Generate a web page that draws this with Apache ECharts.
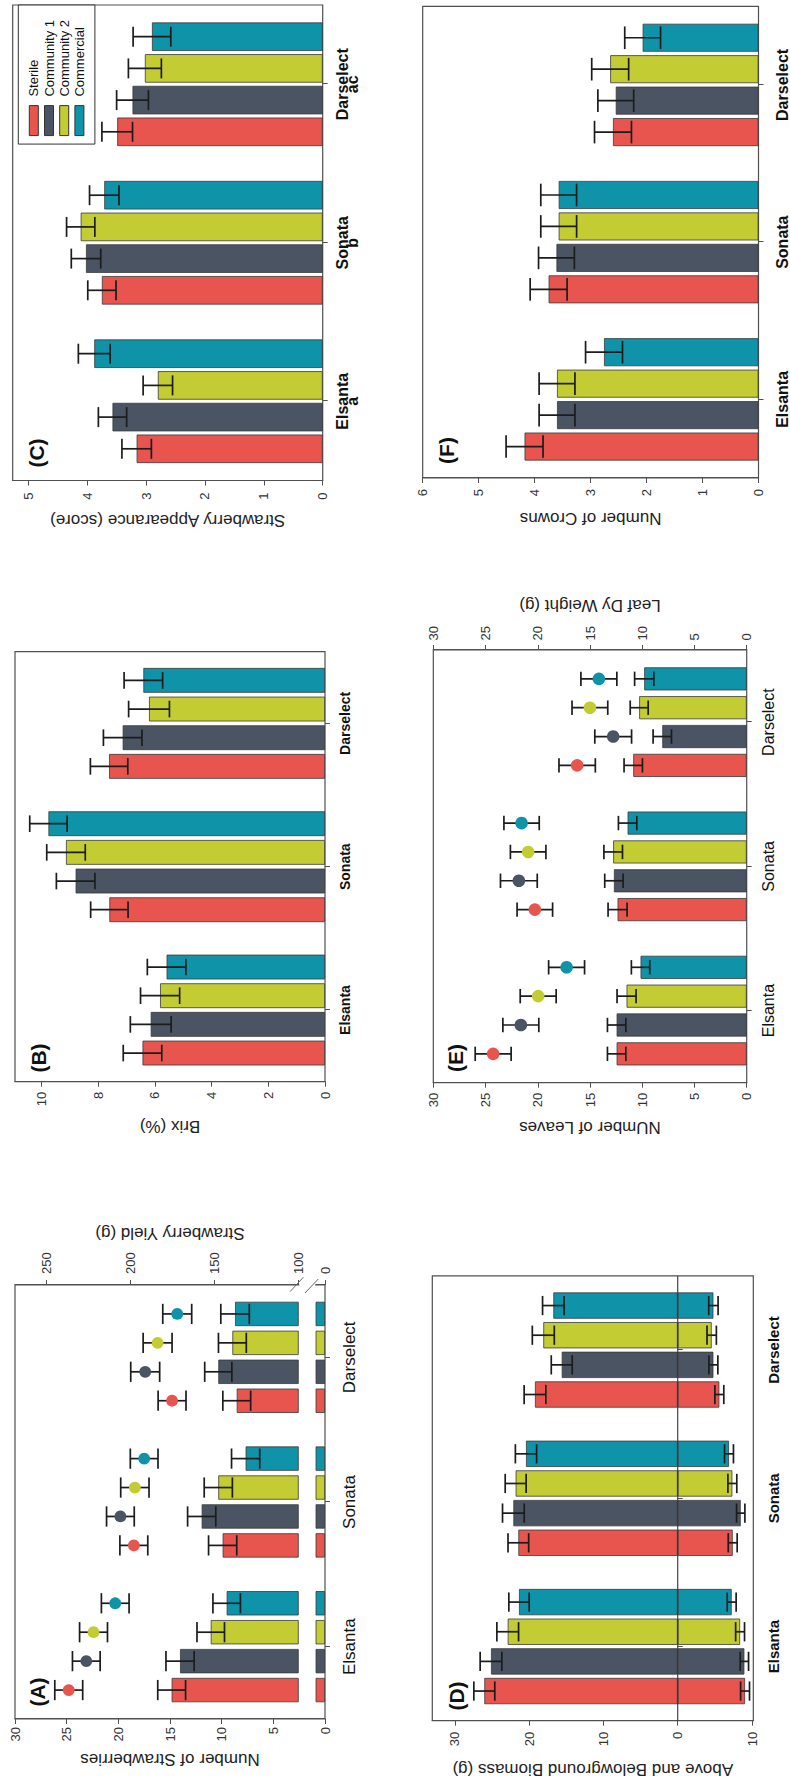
<!DOCTYPE html>
<html>
<head>
<meta charset="utf-8">
<script src="https://cdn.jsdelivr.net/npm/echarts@6/dist/echarts.min.js"></script>
<style>
  html, body { margin: 0; padding: 0; background: #fff; width: 790px; height: 1787px; overflow: hidden; }
  /* the six-panel figure is laid out landscape and turned a quarter turn to stand on the page */
  #fig { position: absolute; left: 0; top: 0; width: 1787px; height: 790px;
         transform-origin: 0 0; transform: translate(0px, 1787px) rotate(-90deg); }
</style>
</head>
<body>
<div id="fig"></div>
<script>
// ---- categories -----------------------------------------------------------
const cultivars = ['Elsanta', 'Sonata', 'Darselect'];
const treatments = ['Sterile', 'Community 1', 'Community 2', 'Commercial'];
const palette = ['#E8544E', '#4A5463', '#C3CC32', '#0F93A9'];

// ---- (A) strawberry yield (g, bars) and number of strawberries (points) ---
// rows follow `treatments`, columns follow `cultivars`
const yieldMean = [[175.5, 145.1, 136.7], [170.5, 157.6, 147.7], [152.2, 147.7, 139.3], [142.7, 131.4, 137.7]];
const yieldErr = [[8.3, 8.4, 8.3], [8.4, 8.4, 8.1], [8.2, 8.4, 8.3], [8.2, 8.4, 8.5]];
const berryCount = [[24.8, 18.5, 14.8], [23.1, 19.8, 17.4], [22.4, 18.4, 16.2], [20.3, 17.5, 14.3]];
const berryCountErr = [[1.35, 1.35, 1.35], [1.34, 1.34, 1.4], [1.35, 1.37, 1.4], [1.34, 1.34, 1.4]];
const berryCountTicks = [0, 5, 10, 15, 20, 25, 30];
const yieldTicks = [100, 150, 200, 250];
const yieldStubTicks = [0];

// ---- (B) Brix --------------------------------------------------------------
const brixMean = [[6.44, 7.61, 7.62], [6.15, 8.80, 7.14], [5.82, 9.14, 6.21], [5.59, 9.76, 6.41]];
const brixErr = [[0.68, 0.66, 0.66], [0.72, 0.68, 0.68], [0.69, 0.68, 0.72], [0.68, 0.66, 0.68]];
const brixTicks = [0, 2, 4, 6, 8, 10];

// ---- (C) appearance score --------------------------------------------------
const appearMean = [[3.16, 3.75, 3.49], [3.57, 4.02, 3.23], [2.80, 4.11, 3.02], [3.88, 3.71, 2.90]];
const appearErr = [[0.25, 0.24, 0.26], [0.24, 0.25, 0.27], [0.25, 0.24, 0.28], [0.27, 0.25, 0.32]];
const appearLetters = ['a', 'b', 'ac'];
const appearTicks = [0, 1, 2, 3, 4, 5];

// ---- (D) above (+) and belowground (-) biomass ------------------------------
const aboveMean = [[26.03, 21.45, 19.21], [25.13, 22.12, 15.61], [22.88, 21.81, 18.09], [21.36, 20.42, 16.74]];
const aboveErr = [[1.41, 1.39, 1.46], [1.46, 1.46, 1.41], [1.46, 1.41, 1.48], [1.37, 1.43, 1.45]];
const belowMean = [[-9.06, -7.40, -5.60], [-8.97, -8.48, -4.80], [-8.39, -7.35, -4.57], [-7.26, -6.90, -4.80]];
const belowErr = [[0.60, 0.60, 0.60], [0.56, 0.56, 0.60], [0.60, 0.60, 0.63], [0.60, 0.60, 0.63]];
const biomassTicks = [-10, 0, 10, 20, 30];

// ---- (E) number of leaves (points) and leaf dry weight (bars) ---------------
const leafCount = [[24.27, 20.28, 16.23], [21.62, 21.81, 12.78], [19.96, 20.92, 15.01], [17.24, 21.55, 14.15]];
const leafCountErr = [[1.72, 1.70, 1.74], [1.72, 1.76, 1.76], [1.72, 1.70, 1.71], [1.72, 1.69, 1.72]];
const leafDryWeight = [[12.45, 12.36, 10.86], [12.45, 12.71, 8.08], [11.50, 12.78, 10.29], [10.16, 11.40, 9.81]];
const leafDryWeightErr = [[0.88, 0.91, 0.88], [0.88, 0.88, 0.88], [0.91, 0.89, 0.86], [0.88, 0.88, 0.92]];
const leafTicks = [0, 5, 10, 15, 20, 25, 30];

// ---- (F) number of crowns ----------------------------------------------------
const crownMean = [[4.18, 3.75, 2.60], [3.60, 3.61, 2.55], [3.60, 3.57, 2.65], [2.76, 3.57, 2.07]];
const crownErr = [[0.33, 0.33, 0.33], [0.32, 0.32, 0.32], [0.32, 0.32, 0.33], [0.33, 0.32, 0.32]];
const crownTicks = [0, 1, 2, 3, 4, 5, 6];

// ---- option builders -------------------------------------------------------
const FONT = '"Liberation Sans", Arial, Helvetica, sans-serif';
const INK = '#505050';
const grid = [], xAxis = [], yAxis = [], series = [], graphic = [];

function addGrid(r, border) {
  grid.push({ left: r[0], top: r[1], width: r[2], height: r[3], show: border,
              borderColor: INK, borderWidth: 1.2, backgroundColor: 'transparent' });
  return grid.length - 1;
}

function addCatAxis(gi, lab) {
  if (!lab) {
    xAxis.push({ type: 'category', gridIndex: gi, data: cultivars, boundaryGap: true, show: false });
  } else {
    xAxis.push({
      type: 'category', gridIndex: gi, data: cultivars, boundaryGap: true,
      axisLine: { show: false },
      axisTick: { show: true, alignWithLabel: true, length: 5, lineStyle: { color: INK, width: 1 } },
      axisLabel: { show: true, interval: 0, margin: lab.margin, fontFamily: FONT, fontSize: lab.size,
                   fontWeight: lab.bold ? 'bold' : 'normal', color: '#111',
                   formatter: lab.formatter, rich: lab.rich }
    });
  }
  return xAxis.length - 1;
}

function addValAxis(gi, o) {
  yAxis.push({
    type: 'value', gridIndex: gi, position: o.pos || 'left', min: o.min, max: o.max,
    name: o.name || '', nameLocation: 'middle', nameGap: o.nameGap || 0,
    nameTextStyle: { fontFamily: FONT, fontSize: 17, color: '#222' },
    axisLine: { show: !!o.ticks, lineStyle: { color: INK, width: 1.2 } },
    axisTick: { show: !!o.ticks, length: 5, lineStyle: { color: INK, width: 1 },
                customValues: o.ticks || [] },
    axisLabel: { show: !!o.ticks, margin: o.margin || 8, fontFamily: FONT, fontSize: 13, color: '#333',
                 customValues: o.ticks || [], formatter: o.fmt },
    splitLine: { show: false }
  });
  return yAxis.length - 1;
}

function addBars(xi, yi, means, widthFrac, stackKey) {
  const pct = 20 * widthFrac;
  const gap = (1 - widthFrac) / widthFrac * 100;
  means.forEach((row, t) => series.push({
    type: 'bar', name: treatments[t], xAxisIndex: xi, yAxisIndex: yi, data: row,
    barWidth: pct + '%', barGap: gap + '%', stack: stackKey ? stackKey + t : null,
    itemStyle: { color: palette[t], borderColor: '#3a3a3a', borderWidth: 0.8 },
    silent: true, clip: true, z: 2
  }));
}

// error bars (and optional dots) placed on the same slot as the bar of each treatment
function addErrors(xi, yi, means, errs, capFrac, dot) {
  means.forEach((row, t) => series.push({
    type: 'custom', xAxisIndex: xi, yAxisIndex: yi, silent: true, z: 6,
    data: row.map((m, k) => [k, m, errs[t][k]]),
    encode: { x: 0, y: 1 },
    renderItem(params, api) {
      const k = api.value(0), m = api.value(1), e = api.value(2);
      const pitch = api.size([1, 0])[0] / 5;
      const mid = api.coord([k, m]);
      const lo = api.coord([k, m - e]), hi = api.coord([k, m + e]);
      const x = mid[0] + (t - 1.5) * pitch, c = pitch * capFrac / 2;
      const ls = { stroke: '#1c1c1c', lineWidth: 1.7 };
      const children = [
        { type: 'line', shape: { x1: x, y1: lo[1], x2: x, y2: hi[1] }, style: ls },
        { type: 'line', shape: { x1: x - c, y1: lo[1], x2: x + c, y2: lo[1] }, style: ls },
        { type: 'line', shape: { x1: x - c, y1: hi[1], x2: x + c, y2: hi[1] }, style: ls }
      ];
      if (dot) children.push({ type: 'circle', shape: { cx: x, cy: mid[1], r: dot }, style: { fill: palette[t] } });
      return { type: 'group', children };
    }
  }));
}

function panelTag(text, x, y) {
  graphic.push({ type: 'text', x, y, z: 50,
    style: { text, fontFamily: FONT, fontSize: 21, fontWeight: 'bold', fill: '#111',
             align: 'center', verticalAlign: 'middle', textAlign: 'center', textVerticalAlign: 'middle' } });
}

// ---- (A) -----------------------------------------------------------------
{
  const gFull = addGrid([68, 15, 434, 310], true);
  const gMain = addGrid([68, 15, 434, 283.3], false);
  const gStub = addGrid([68, 316, 434, 9], false);
  const xFull = addCatAxis(gFull, { margin: 15.5, size: 17, bold: false });
  const xMain = addCatAxis(gMain, null);
  const xStub = addCatAxis(gStub, null);
  const yCount = addValAxis(gFull, { min: 0, max: 30, ticks: berryCountTicks, margin: 8,
                                     name: 'Number of Strawberries', nameGap: 31.5 });
  addValAxis(gFull, { pos: 'right', min: 0, max: 30, name: 'Strawberry Yield (g)', nameGap: 43.5 });
  const yMain = addValAxis(gMain, { pos: 'right', min: 100, max: 268.9, ticks: yieldTicks, margin: 11 });
  const yStub = addValAxis(gStub, { pos: 'right', min: 0, max: 5.4, ticks: yieldStubTicks, margin: 11 });
  addBars(xMain, yMain, yieldMean, 0.84);
  addBars(xStub, yStub, yieldMean, 0.84);
  addErrors(xMain, yMain, yieldMean, yieldErr, 0.7);
  addErrors(xFull, yCount, berryCount, berryCountErr, 0.7, 5.9);
  panelTag('(A)', 95, 37);
  // broken yield axis: gap in the frame plus the two slash marks
  graphic.push({ type: 'rect', z: 40, shape: { x: 499, y: 299.3, width: 6, height: 15.7 }, style: { fill: '#fff' } });
  graphic.push({ type: 'line', z: 41, shape: { x1: 495.3, y1: 290, x2: 509.7, y2: 303.3 }, style: { stroke: '#666', lineWidth: 1 } });
  graphic.push({ type: 'line', z: 41, shape: { x1: 494, y1: 305, x2: 508, y2: 318.3 }, style: { stroke: '#666', lineWidth: 1 } });
}

// ---- (B) -----------------------------------------------------------------
{
  const g = addGrid([705.3, 15, 430, 310], true);
  const x = addCatAxis(g, { margin: 13, size: 14, bold: true });
  const y = addValAxis(g, { min: 0, max: 10.94, ticks: brixTicks, margin: 10, name: 'Brix (%)', nameGap: 36 });
  addBars(x, y, brixMean, 0.865);
  addErrors(x, y, brixMean, brixErr, 0.58);
  panelTag('(B)', 729, 38.3);
}

// ---- (C) -----------------------------------------------------------------
{
  const g = addGrid([1306.5, 12.7, 475.5, 310], true);
  const x = addCatAxis(g, { margin: 14, size: 16, bold: true,
    formatter: (v, i) => '{n|' + v + '}\n{s|' + appearLetters[i] + '}',
    rich: { n: { fontFamily: FONT, fontSize: 16, fontWeight: 'bold', color: '#111', lineHeight: 11 },
            s: { fontFamily: FONT, fontSize: 16, fontWeight: 'bold', color: '#111', lineHeight: 9 } } });
  const y = addValAxis(g, { min: 0, max: 5.265, ticks: appearTicks, margin: 12,
                            name: 'Strawberry Appearance (score)', nameGap: 31 });
  addBars(x, y, appearMean, 0.9);
  addErrors(x, y, appearMean, appearErr, 0.63);
  panelTag('(C)', 1334, 36.7);
}

// ---- (D) -----------------------------------------------------------------
{
  const g = addGrid([66.3, 432.3, 444.8, 321], true);
  const x = addCatAxis(g, { margin: 12.5, size: 15, bold: true });
  const y = addValAxis(g, { min: -10.17, max: 33.03, ticks: biomassTicks, margin: 11,
                            name: 'Above and Belowground Biomass (g)', nameGap: 40,
                            fmt: v => String(Math.abs(v)) });
  addBars(x, y, aboveMean, 0.886, 'D');
  addBars(x, y, belowMean, 0.886, 'D');
  addErrors(x, y, aboveMean, aboveErr, 0.65);
  addErrors(x, y, belowMean, belowErr, 0.65);
  // zero reference line across the panel
  series.push({ type: 'custom', xAxisIndex: x, yAxisIndex: y, silent: true, z: 7,
    data: [[0, 0]], encode: { x: 0, y: 1 },
    renderItem(params, api) {
      const cs = params.coordSys, yy = api.coord([0, 0])[1];
      return { type: 'line', shape: { x1: cs.x, y1: yy, x2: cs.x + cs.width, y2: yy },
               style: { stroke: '#333', lineWidth: 1.1 } };
    } });
  panelTag('(D)', 91, 456.7);
}

// ---- (E) -----------------------------------------------------------------
{
  const g = addGrid([704.3, 433.3, 432.7, 313.4], true);
  const x = addCatAxis(g, { margin: 14, size: 16, bold: false });
  const yLeft = addValAxis(g, { min: 0, max: 30, ticks: leafTicks, margin: 10,
                                name: 'NUmber of Leaves', nameGap: 36 });
  const yRight = addValAxis(g, { pos: 'right', min: 0, max: 30, ticks: leafTicks, margin: 9.5,
                                 name: 'Leaf Dy Weight (g)', nameGap: 36.5 });
  addBars(x, yRight, leafDryWeight, 0.8);
  addErrors(x, yRight, leafDryWeight, leafDryWeightErr, 0.5);
  addErrors(x, yLeft, leafCount, leafCountErr, 0.5, 6.3);
  panelTag('(E)', 729, 455);
}

// ---- (F) -----------------------------------------------------------------
{
  const g = addGrid([1309, 422.7, 471.7, 339.3], true);
  const x = addCatAxis(g, { margin: 15.5, size: 16, bold: true });
  const y = addValAxis(g, { min: 0, max: 6, ticks: crownTicks, margin: 11,
                            name: 'Number of Crowns', nameGap: 31.5 });
  addBars(x, y, crownMean, 0.89);
  addErrors(x, y, crownMean, crownErr, 0.72);
  panelTag('(F)', 1336.5, 446.7);
}

const chart = echarts.init(document.getElementById('fig'), null, { renderer: 'svg', width: 1787, height: 790 });
chart.setOption({
  animation: false,
  backgroundColor: '#fff',
  legend: {
    orient: 'vertical', right: 5, top: 18.3,
    padding: [9, 15, 9, 8], itemWidth: 30, itemHeight: 9, itemGap: 2.2,
    borderColor: '#333', borderWidth: 1, backgroundColor: '#fff',
    icon: 'rect', selectedMode: false,
    textStyle: { fontFamily: FONT, fontSize: 13, lineHeight: 13, color: '#111', padding: [0, 0, 0, 4] },
    data: treatments.map((n, i) => ({ name: n, itemStyle: { color: palette[i], borderColor: '#333', borderWidth: 1 } }))
  },
  grid, xAxis, yAxis, series, graphic
});
</script>
</body>
</html>
